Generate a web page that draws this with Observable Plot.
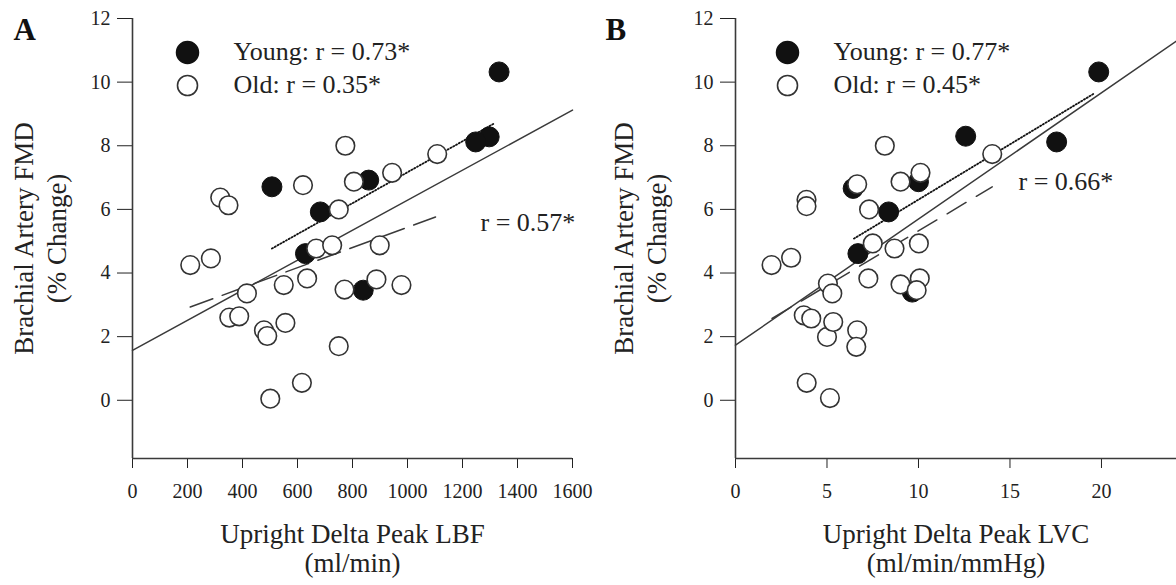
<!DOCTYPE html>
<html>
<head>
<meta charset="utf-8">
<script src="https://cdn.jsdelivr.net/npm/d3@7"></script>
<script src="https://cdn.jsdelivr.net/npm/@observablehq/plot@0.6"></script>
<style>
  html, body { margin: 0; padding: 0; background: #fff; }
  #wrap { display: flex; width: 1176px; height: 585px; }
  #wrap svg { max-width: none; overflow: visible; }
</style>
</head>
<body>
<div id="wrap"></div>
<script>
// ---------- Data ----------
// Panel A: Upright Delta Peak LBF (ml/min) vs Brachial Artery FMD (% change)
const youngA_x = [1333, 1297, 1248, 859, 507, 683, 629, 839];
const youngA_y = [10.32, 8.28, 8.12, 6.92, 6.71, 5.92, 4.61, 3.46];
const oldA_x = [774, 1108, 944, 620, 805, 319, 349, 750, 668, 726, 899, 210, 285, 416, 550, 635, 771, 887, 978, 352, 388, 478, 490, 556, 750, 616, 501];
const oldA_y = [8.0, 7.74, 7.15, 6.76, 6.87, 6.37, 6.13, 6.0, 4.77, 4.87, 4.87, 4.25, 4.46, 3.36, 3.62, 3.83, 3.48, 3.80, 3.62, 2.60, 2.64, 2.20, 2.02, 2.43, 1.70, 0.55, 0.05];

// Panel B: Upright Delta Peak LVC (ml/min/mmHg)
const youngB_x = [19.85, 12.58, 17.55, 10.0, 6.43, 8.37, 6.69, 9.66];
const youngB_y = [10.32, 8.30, 8.12, 6.87, 6.66, 5.92, 4.61, 3.40];
const oldB_x = [8.16, 14.03, 10.11, 6.65, 9.02, 3.88, 3.88, 7.3, 7.5, 8.69, 10.02, 1.97, 3.04, 5.05, 5.29, 7.26, 9.02, 10.07, 9.9, 3.73, 4.14, 6.65, 5.0, 5.34, 6.6, 3.89, 5.16];
const oldB_y = [8.0, 7.74, 7.15, 6.79, 6.87, 6.30, 6.10, 6.0, 4.93, 4.77, 4.93, 4.25, 4.48, 3.67, 3.36, 3.83, 3.64, 3.83, 3.46, 2.67, 2.57, 2.20, 1.99, 2.46, 1.68, 0.55, 0.07];

// Regression lines (end points)
const fitA_all_x = [0, 1600],    fitA_all_y = [1.57, 9.12];
const fitA_young_x = [507, 1315], fitA_young_y = [4.77, 8.70];
const fitA_old_x = [210, 1102],   fitA_old_y = [2.93, 5.76];
const fitB_all_x = [0, 24.1],     fitB_all_y = [1.73, 11.29];
const fitB_young_x = [6.47, 19.59], fitB_young_y = [5.08, 9.64];
const fitB_old_x = [2.0, 14.03],  fitB_old_y = [2.57, 6.71];

// Ticks and labels
const yTicks = [0, 2, 4, 6, 8, 10, 12];
const xTicksA = [0, 200, 400, 600, 800, 1000, 1200, 1400, 1600];
const xTicksB = [0, 5, 10, 15, 20];
const legendA = ["Young: r = 0.73*", "Old: r = 0.35*"];
const legendB = ["Young: r = 0.77*", "Old: r = 0.45*"];
const overallA = ["r = 0.57*"];
const overallB = ["r = 0.66*"];
const panelLabels = ["A", "B"];
const yTitle = ["Brachial Artery FMD", "(% Change)"];
const xTitleA = ["Upright Delta Peak LBF", "(ml/min)"];
const xTitleB = ["Upright Delta Peak LVC", "(ml/min/mmHg)"];

// ---------- Helpers ----------
const FONT = "'Liberation Serif', 'Times New Roman', Times, serif";
const INK = "#222";
const LINE = "#3a3a3a";
const yMin = -1.83;
const pts = (xs, ys) => xs.map((x, i) => ({x, y: ys[i]}));
const plain = d => String(d);

function panel({width, marginLeft, marginRight, xDomain, xTicks, young, old, fits, legend, overall, overallPos, label, labelDx, xTitle, legendDx, dashOld}) {
  const [all, yg, od] = fits;
  return Plot.plot({
    width, height: 585,
    marginLeft, marginRight, marginTop: 18, marginBottom: 127,
    style: {fontFamily: FONT, fontSize: "20px", color: INK, background: "#fff", overflow: "visible"},
    x: {domain: xDomain, ticks: xTicks, tickFormat: plain, tickSize: 10, tickPadding: 15, label: null},
    y: {domain: [yMin, 12], ticks: yTicks, tickFormat: plain, tickSize: 15, tickPadding: 7, label: null},
    marks: [
      Plot.ruleX([xDomain[0]], {stroke: LINE, strokeWidth: 1.6}),
      Plot.ruleY([yMin], {stroke: LINE, strokeWidth: 1.6}),
      Plot.line(all, {x: "x", y: "y", stroke: LINE, strokeWidth: 1.5}),
      Plot.line(od, {x: "x", y: "y", stroke: LINE, strokeWidth: 1.5, strokeDasharray: dashOld}),
      Plot.line(yg, {x: "x", y: "y", stroke: "#111", strokeWidth: 1.8, strokeDasharray: "1.2,2"}),
      Plot.dot(young, {x: "x", y: "y", r: 10, fill: "#111", stroke: "#111", strokeWidth: 1}),
      Plot.dot(old, {x: "x", y: "y", r: 9.3, fill: "#fff", stroke: "#333", strokeWidth: 1.6}),
      // legend
      Plot.dot([legend[0]], {frameAnchor: "top-left", dx: legendDx, dy: 34, r: 11, fill: "#111", stroke: "#111"}),
      Plot.dot([legend[1]], {frameAnchor: "top-left", dx: legendDx, dy: 67, r: 10, fill: "#fff", stroke: "#333", strokeWidth: 1.6}),
      Plot.text([legend[0]], {text: d => d, frameAnchor: "top-left", textAnchor: "start", lineAnchor: "middle", dx: legendDx + 46, dy: 33, fontSize: 26, fill: INK}),
      Plot.text([legend[1]], {text: d => d, frameAnchor: "top-left", textAnchor: "start", lineAnchor: "middle", dx: legendDx + 46, dy: 66, fontSize: 26, fill: INK}),
      // overall r
      Plot.text(overall, {text: d => d, frameAnchor: "top-left", textAnchor: "start", lineAnchor: "middle", dx: overallPos[0], dy: overallPos[1], fontSize: 26, fill: INK}),
      // panel label
      Plot.text([label], {text: d => d, frameAnchor: "top-left", textAnchor: "start", lineAnchor: "middle", dx: labelDx, dy: 12, fontSize: 31, fontWeight: "bold", fill: "#111"}),
      // y title
      Plot.text([yTitle[0]], {text: d => d, frameAnchor: "left", rotate: -90, textAnchor: "middle", lineAnchor: "middle", dx: -(marginLeft - 24), fontSize: 27, fill: INK}),
      Plot.text([yTitle[1]], {text: d => d, frameAnchor: "left", rotate: -90, textAnchor: "middle", lineAnchor: "middle", dx: -(marginLeft - 57), fontSize: 27, fill: INK}),
      // x title
      Plot.text([xTitle[0]], {text: d => d, frameAnchor: "bottom", textAnchor: "middle", lineAnchor: "middle", dy: 76, fontSize: 27, fill: INK}),
      Plot.text([xTitle[1]], {text: d => d, frameAnchor: "bottom", textAnchor: "middle", lineAnchor: "middle", dy: 105, fontSize: 27, fill: INK})
    ]
  });
}

const wrap = document.getElementById("wrap");

wrap.appendChild(panel({
  width: 600, marginLeft: 132, marginRight: 28,
  xDomain: [0, 1600], xTicks: xTicksA,
  young: pts(youngA_x, youngA_y), old: pts(oldA_x, oldA_y),
  fits: [pts(fitA_all_x, fitA_all_y), pts(fitA_young_x, fitA_young_y), pts(fitA_old_x, fitA_old_y)],
  legend: legendA, overall: overallA, overallPos: [348, 204],
  label: panelLabels[0], labelDx: -119, xTitle: xTitleA, legendDx: 55, dashOld: "24,10"
}));

wrap.appendChild(panel({
  width: 576, marginLeft: 135, marginRight: 0,
  xDomain: [0, 24.1], xTicks: xTicksB,
  young: pts(youngB_x, youngB_y), old: pts(oldB_x, oldB_y),
  fits: [pts(fitB_all_x, fitB_all_y), pts(fitB_young_x, fitB_young_y), pts(fitB_old_x, fitB_old_y)],
  legend: legendB, overall: overallB, overallPos: [283, 163],
  label: panelLabels[1], labelDx: -130, xTitle: xTitleB, legendDx: 52, dashOld: "22,12"
}));
</script>
</body>
</html>
